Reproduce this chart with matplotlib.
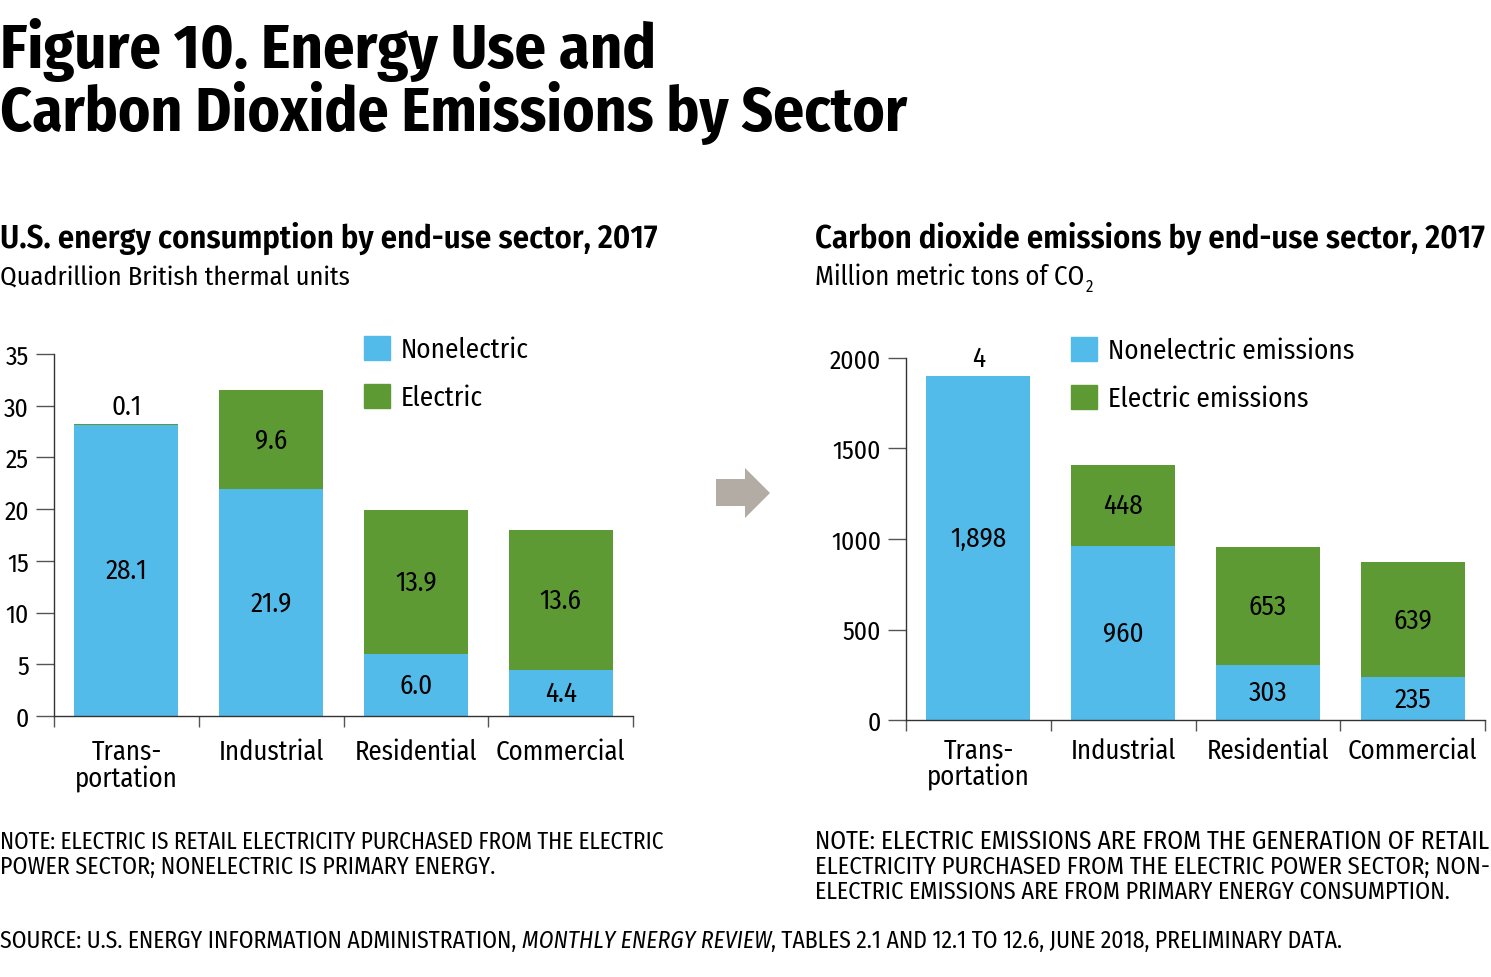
import matplotlib
matplotlib.use("Agg")
import matplotlib.pyplot as plt
from matplotlib import font_manager
from matplotlib.patches import Polygon, Patch

# ---------------- data ----------------
sectors = ["Trans-\nportation", "Industrial", "Residential", "Commercial"]
energy_nonelectric = [28.1, 21.9, 6.0, 4.4]
energy_electric = [0.1, 9.6, 13.9, 13.6]
energy_nonelectric_labels = ["28.1", "21.9", "6.0", "4.4"]
energy_electric_labels = ["0.1", "9.6", "13.9", "13.6"]
energy_yticks = [0, 5, 10, 15, 20, 25, 30, 35]

co2_nonelectric = [1898, 960, 303, 235]
co2_electric = [4, 448, 653, 639]
co2_nonelectric_labels = ["1,898", "960", "303", "235"]
co2_electric_labels = ["4", "448", "653", "639"]
co2_yticks = [0, 500, 1000, 1500, 2000]

BLUE = "#53BBEA"
GREEN = "#5E9A34"
ARROW = "#B3ACA5"

# ---------------- fonts ----------------
avail = {f.name for f in font_manager.fontManager.ttflist}
FONT = "DejaVu Sans"
for cand in ["Fira Sans Condensed", "Barlow Semi Condensed", "Asap Condensed", "Liberation Sans Narrow"]:
    if cand in avail:
        FONT = cand
        break
plt.rcParams["font.family"] = [FONT, "DejaVu Sans"]

W, H = 1491, 978
fig = plt.figure(figsize=(W / 100, H / 100), dpi=100)
fig.canvas.draw()
renderer = fig.canvas.get_renderer()


def fx(px):
    return px / W


def fy(py):
    return 1 - py / H


def fit_text(x, y, s, width_px, size=20, **kw):
    t = fig.text(fx(x), fy(y), s, fontsize=size, va="baseline", ha="left", **kw)
    w = t.get_window_extent(renderer).width
    t.set_fontsize(size * width_px / w)
    return t


# titles
fit_text(0, 68, "Figure 10. Energy Use and", 657, size=44, fontweight="bold")
fit_text(0, 131, "Carbon Dioxide Emissions by Sector", 907, size=44, fontweight="bold")

fit_text(0, 248, "U.S. energy consumption by end-use sector, 2017", 657, size=22, fontweight=600)
fit_text(815, 248, "Carbon dioxide emissions by end-use sector, 2017", 670, size=22, fontweight=600)
fit_text(0, 285, "Quadrillion British thermal units", 350, size=19)
t_co = fit_text(815, 285, "Million metric tons of CO", 270, size=19)
fig.text(fx(815 + 271), fy(292), "2", fontsize=t_co.get_fontsize() * 0.62, va="baseline", ha="left")

# notes
fit_text(0, 849, "NOTE: ELECTRIC IS RETAIL ELECTRICITY PURCHASED FROM THE ELECTRIC", 663, size=14)
fit_text(0, 874, "POWER SECTOR; NONELECTRIC IS PRIMARY ENERGY.", 496, size=14)
fit_text(815, 849, "NOTE: ELECTRIC EMISSIONS ARE FROM THE GENERATION OF RETAIL", 675, size=14)
fit_text(815, 874, "ELECTRICITY PURCHASED FROM THE ELECTRIC POWER SECTOR; NON-", 675, size=14)
fit_text(815, 899, "ELECTRIC EMISSIONS ARE FROM PRIMARY ENERGY CONSUMPTION.", 637, size=14)

# source line with italic part
src_parts = [("SOURCE: U.S. ENERGY INFORMATION ADMINISTRATION, ", "normal"),
             ("MONTHLY ENERGY REVIEW", "italic"),
             (", TABLES 2.1 AND 12.1 TO 12.6, JUNE 2018, PRELIMINARY DATA.", "normal")]
texts = []
x = 0
for s, st in src_parts:
    t = fig.text(fx(x), fy(948), s, fontsize=14, fontstyle=st, va="baseline", ha="left")
    x += t.get_window_extent(renderer).width
    texts.append(t)
scale = 1348 / x
x = 0
for t in texts:
    t.set_fontsize(14 * scale)
    t.set_x(fx(x))
    x += t.get_window_extent(renderer).width

# ---------------- axes ----------------
axL = fig.add_axes([fx(54), fy(717), fx(633) - fx(54), fy(355) - fy(717)])
axR = fig.add_axes([fx(906), fy(721), fx(1485) - fx(906), fy(359) - fy(721)])


def draw_panel(ax, nonel, elec, nonel_lbl, elec_lbl, yticks, ymax, leg_labels, leg_xy,
               xpad, first_label_shift):
    pos = list(range(len(sectors)))
    ax.bar(pos, nonel, width=0.72, color=BLUE, edgecolor="none")
    ax.bar(pos, elec, bottom=nonel, width=0.72, color=GREEN, edgecolor="none")
    ax.set_xlim(-0.5, len(sectors) - 0.5)
    ax.set_ylim(0, ymax)
    ax.set_yticks(yticks)
    ax.set_yticklabels([str(v) for v in yticks], fontsize=18.5)
    ax.set_xticks(pos)
    ax.set_xticklabels(sectors, fontsize=19.3, linespacing=1.0)
    ax.set_xticks([p - 0.5 for p in pos] + [len(pos) - 0.5], minor=True)
    ax.tick_params(axis="x", which="major", length=0, pad=xpad)
    ax.tick_params(axis="x", which="minor", length=8, width=1, color="#555555")
    ax.tick_params(axis="y", length=13, width=1, color="#555555", pad=5)
    for sp in ["top", "right"]:
        ax.spines[sp].set_visible(False)
    for sp in ["left", "bottom"]:
        ax.spines[sp].set_color("#333333")
        ax.spines[sp].set_linewidth(1)
    fs = 19.5
    for i, p in enumerate(pos):
        if i == 0:
            ax.text(p, nonel[i] + elec[i] + ymax * 0.012, elec_lbl[i], ha="center", va="bottom", fontsize=fs)
            ax.text(p, nonel[i] / 2 + first_label_shift * ymax, nonel_lbl[i], ha="center", va="center", fontsize=fs)
        else:
            ax.text(p, nonel[i] / 2, nonel_lbl[i], ha="center", va="center", fontsize=fs)
            ax.text(p, nonel[i] + elec[i] / 2, elec_lbl[i], ha="center", va="center", fontsize=fs)
    handles = [Patch(color=BLUE), Patch(color=GREEN)]
    ax.legend(handles, leg_labels, loc="upper left", bbox_to_anchor=(fx(leg_xy[0]), fy(leg_xy[1])),
              bbox_transform=fig.transFigure, frameon=False, fontsize=19.5,
              handlelength=0.97, handleheight=0.97, handletextpad=0.4, labelspacing=0.8,
              borderpad=0, borderaxespad=0)


draw_panel(axL, energy_nonelectric, energy_electric, energy_nonelectric_labels, energy_electric_labels,
           energy_yticks, 35, ["Nonelectric", "Electric"], (364, 337), 16, 0.0)
draw_panel(axR, co2_nonelectric, co2_electric, co2_nonelectric_labels, co2_electric_labels,
           co2_yticks, 2000, ["Nonelectric emissions", "Electric emissions"], (1071, 338), 12, 0.028)

# arrow between panels
arrow_px = [(716, 480), (745, 480), (745, 469), (770, 494), (745, 519), (745, 507), (716, 507)]
fig.patches.append(Polygon([(fx(a), fy(b)) for a, b in arrow_px], closed=True,
                           transform=fig.transFigure, facecolor=ARROW, edgecolor="none"))

fig.savefig("out.png", dpi=100)
